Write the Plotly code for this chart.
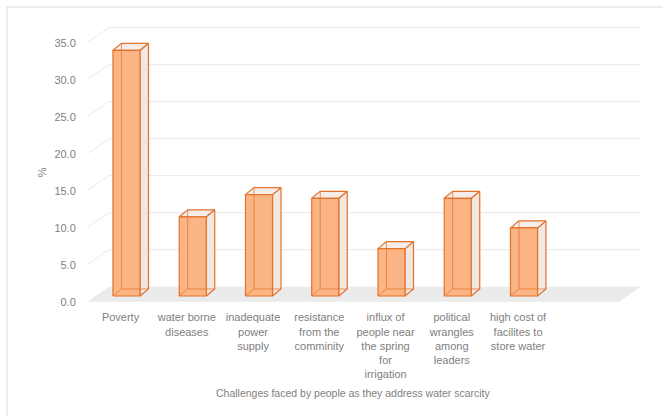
import plotly.graph_objects as go

# ---- data ----
categories = [
    "Poverty",
    "water borne<br>diseases",
    "inadequate<br>power<br>supply",
    "resistance<br>from the<br>comminity",
    "influx of<br>people near<br>the spring<br>for<br>irrigation",
    "political<br>wrangles<br>among<br>leaders",
    "high cost of<br>facilites to<br>store water",
]
values = [33.2, 10.7, 13.7, 13.2, 6.4, 13.2, 9.2]
y_ticks = [0, 5, 10, 15, 20, 25, 30, 35]
y_ticklabels = ["0.0", "5.0", "10.0", "15.0", "20.0", "25.0", "30.0", "35.0"]
x_title = "Challenges faced by people as they address water scarcity"
y_title = "%"

# ---- 3D look geometry (in axis units) ----
X_MIN, X_MAX = -0.506, 7.856
Y_MIN, Y_MAX = -0.31, 37.39
DX, DY = 0.332, 2.03      # depth of floor / back wall
BX0, BY0 = 0.09, 0.77     # offset of bar front face from floor front
HW = 0.204                # half width of bar front face
BDX, BDY = 0.128, 0.95    # bar depth

EDGE = "#E5722A"
FRONT = "#FBB584"
SIDE = "#F1E7E3"
TOP = "#F5EDEA"
GRID = "#E9E9E9"
FLOOR = "#EBEBEB"
TXT = "#808080"
FONT = "Liberation Sans"
FS = 11

fx, fy, sx, sy, tx, ty, hx, hy = [], [], [], [], [], [], [], []
for i, v in enumerate(values):
    x0 = i + BX0 - HW
    x1 = i + BX0 + HW
    y0 = BY0
    y1 = BY0 + v
    fx += [x0, x1, x1, x0, x0, None]
    fy += [y0, y0, y1, y1, y0, None]
    sx += [x1, x1 + BDX, x1 + BDX, x1, x1, None]
    sy += [y0, y0 + BDY, y1 + BDY, y1, y0, None]
    tx += [x0, x1, x1 + BDX, x0 + BDX, x0, None]
    ty += [y1, y1, y1 + BDY, y1 + BDY, y1, None]
    # hidden edges seen through the transparent box
    hx += [x0 + BDX, x0 + BDX, None, x0 + BDX, x1 + BDX, None, x0, x0 + BDX, None]
    hy += [y0 + BDY, y1 + BDY, None, y0 + BDY, y0 + BDY, None, y0, y0 + BDY, None]

fig = go.Figure()
common = dict(mode="lines", hoverinfo="skip", showlegend=False)
fig.add_trace(go.Scatter(x=sx, y=sy, fill="toself", fillcolor=SIDE,
                         line=dict(color=EDGE, width=1.2), **common))
fig.add_trace(go.Scatter(x=tx, y=ty, fill="toself", fillcolor=TOP,
                         line=dict(color=EDGE, width=1.2), **common))
fig.add_trace(go.Scatter(x=fx, y=fy, fill="toself", fillcolor=FRONT,
                         line=dict(color=EDGE, width=1.2), **common))
fig.add_trace(go.Scatter(x=hx, y=hy, opacity=0.75,
                         line=dict(color=EDGE, width=1.0), **common))

shapes = []
# floor
shapes.append(dict(
    type="path", xref="x", yref="y", layer="below", line=dict(width=0),
    fillcolor=FLOOR,
    path=f"M {X_MIN},0 L {X_MAX - DX},0 L {X_MAX},{DY} L {X_MIN + DX},{DY} Z"))
# gridlines on side wall + back wall
for v in y_ticks[1:]:
    shapes.append(dict(
        type="path", xref="x", yref="y", layer="below",
        line=dict(color=GRID, width=1),
        path=f"M {X_MIN},{v} L {X_MIN + DX},{v + DY} L {X_MAX},{v + DY}"))
# chart border
shapes.append(dict(type="rect", xref="paper", yref="paper",
                   x0=-0.1444, x1=1.06, y0=-0.45, y1=1.0645,
                   line=dict(color="#D9D9D9", width=1), fillcolor="rgba(0,0,0,0)"))

fig.update_layout(
    width=663, height=416,
    margin=dict(l=87, r=22, t=25, b=112),
    paper_bgcolor="white", plot_bgcolor="white",
    font=dict(family=FONT, color=TXT, size=FS),
    shapes=shapes,
    xaxis=dict(range=[X_MIN, X_MAX], tickmode="array",
               tickvals=list(range(len(categories))), ticktext=categories,
               showgrid=False, zeroline=False, showline=False,
               ticks="outside", ticklen=3, tickcolor="rgba(0,0,0,0)",
               tickfont=dict(family=FONT, color=TXT, size=FS),
               automargin=False, fixedrange=True),
    yaxis=dict(range=[Y_MIN, Y_MAX], tickmode="array",
               tickvals=y_ticks, ticktext=y_ticklabels,
               showgrid=False, zeroline=False, showline=False,
               ticks="outside", ticklen=8, tickcolor="rgba(0,0,0,0)",
               tickfont=dict(family=FONT, color=TXT, size=FS),
               automargin=False, fixedrange=True),
    annotations=[
        dict(text=x_title, xref="x", yref="paper",
             x=(X_MIN + X_MAX - DX) / 2, y=-0.319,
             showarrow=False, xanchor="center", yanchor="middle",
             font=dict(family=FONT, color=TXT, size=10.5)),
        dict(text=y_title, xref="paper", yref="y",
             x=-0.0812, y=17.5, textangle=-90,
             showarrow=False, xanchor="center", yanchor="middle",
             font=dict(family=FONT, color=TXT, size=FS)),
    ],
)

fig.write_html(
    "out.html",
    config={"displayModeBar": False},
    post_script="document.body.style.margin='0';document.body.style.overflow='hidden';",
)
